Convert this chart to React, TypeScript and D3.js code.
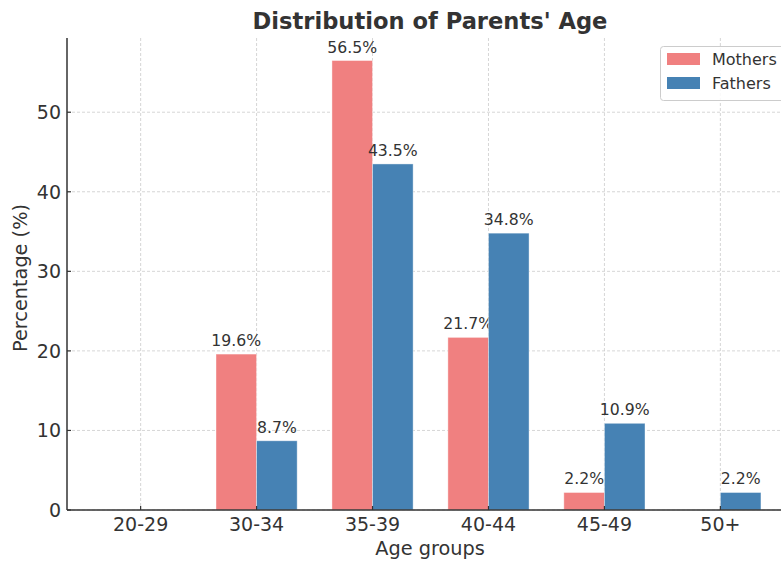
import React from "react";
import * as d3 from "d3";

const categories = ["20-29", "30-34", "35-39", "40-44", "45-49", "50+"];
const mothers = [0, 19.6, 56.5, 21.7, 2.2, 0];
const fathers = [0, 8.7, 43.5, 34.8, 10.9, 2.2];
const yTicks = [0, 10, 20, 30, 40, 50];
const seriesNames = ["Mothers", "Fathers"];
const seriesColors = ["#F08080", "#4682B4"];

const W = 781;
const H = 561;
const left = 67;
const bottom = 510;
const top = 38;
const right = 794;
const font = "DejaVu Sans, sans-serif";
const textColor = "#333333";

export default function App() {
  const x = d3.scaleLinear().domain([-0.635, 5.635]).range([left, right]);
  const y = d3.scaleLinear().domain([0, 59.33]).range([bottom, top]);
  const bw = x(0.35) - x(0);
  const series = [mothers, fathers];

  return (
    <svg width={W} height={H} style={{ position: "absolute", left: 0, top: 0, background: "#fff" }} fontFamily={font}>
      {/* grid */}
      {yTicks.map((t) => (
        <line key={"gy" + t} x1={left} x2={W} y1={y(t)} y2={y(t)} stroke="#cccccc" strokeWidth={0.8} strokeDasharray="3,2" />
      ))}
      {categories.map((c, i) => (
        <line key={"gx" + c} x1={x(i)} x2={x(i)} y1={top} y2={bottom} stroke="#cccccc" strokeWidth={0.8} strokeDasharray="3,2" />
      ))}
      {/* bars */}
      {series.map((vals, s) =>
        vals.map((v, i) => {
          const x0 = s === 0 ? x(i) - bw : x(i);
          return (
            <g key={"b" + s + i}>
              {v > 0 && (
                <rect x={x0} y={y(v)} width={bw} height={y(0) - y(v)} fill={seriesColors[s]} stroke="#ffffff" strokeOpacity={0.5} strokeWidth={0.8} />
              )}
              {v > 0 && (
                <text x={x0 + bw / 2} y={y(v) - 8} textAnchor="middle" fontSize={15.7} fill={textColor}>
                  {v.toFixed(1)}%
                </text>
              )}
            </g>
          );
        })
      )}
      {/* spines */}
      <line x1={left} x2={left} y1={top} y2={bottom} stroke={textColor} strokeWidth={1.5} />
      <line x1={left} x2={W} y1={bottom} y2={bottom} stroke={textColor} strokeWidth={1.5} />
      {/* y ticks */}
      {yTicks.map((t) => (
        <g key={"yt" + t}>
          <line x1={left} x2={left + 4} y1={y(t)} y2={y(t)} stroke={textColor} strokeWidth={1.2} />
          <text x={left - 6} y={y(t)} dy="0.36em" textAnchor="end" fontSize={19} fill={textColor}>
            {t}
          </text>
        </g>
      ))}
      {/* x ticks */}
      {categories.map((c, i) => (
        <g key={"xt" + c}>
          <line x1={x(i)} x2={x(i)} y1={bottom} y2={bottom - 4} stroke={textColor} strokeWidth={1.2} />
          <text x={x(i)} y={531} textAnchor="middle" fontSize={19} fill={textColor}>
            {c}
          </text>
        </g>
      ))}
      {/* axis labels */}
      <text x={430} y={555} textAnchor="middle" fontSize={19.3} fill={textColor}>Age groups</text>
      <text transform={`translate(27,${(top + bottom) / 2 + 4}) rotate(-90)`} textAnchor="middle" fontSize={19.3} fill={textColor}>
        Percentage (%)
      </text>
      {/* title */}
      <text x={430} y={29} textAnchor="middle" fontSize={22.6} fontWeight="bold" fill={textColor}>
        Distribution of Parents' Age
      </text>
      {/* legend */}
      <rect x={660.5} y={46.5} width={130} height={54} rx={3} fill="#ffffff" fillOpacity={0.85} stroke="#cccccc" />
      {seriesNames.map((n, k) => (
        <g key={"lg" + n}>
          <rect x={667} y={53 + k * 24} width={33} height={12} fill={seriesColors[k]} />
          <text x={712} y={59 + k * 24} dy="0.35em" fontSize={16} fill={textColor}>
            {n}
          </text>
        </g>
      ))}
    </svg>
  );
}
